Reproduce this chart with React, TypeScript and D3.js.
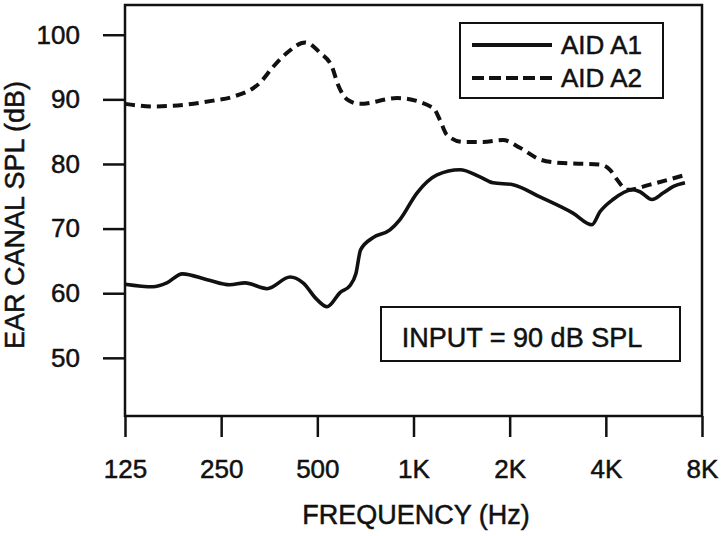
import React from "react";
import * as d3 from "d3";

const freqA1 = [125, 153, 169, 189, 226, 266, 297, 348, 411, 451, 499, 536, 589, 633, 660, 683, 747, 844, 907, 1025, 1185, 1398, 1615, 1774, 2049, 2488, 3156, 3620, 3834, 4211, 4863, 5115, 5576, 6041, 6490, 7075];
const splA1 = [61.4, 61.0, 61.6, 63.0, 62.1, 61.3, 61.6, 60.7, 62.5, 61.6, 59.0, 57.9, 60.1, 61.2, 63.0, 66.7, 68.6, 69.8, 71.4, 75.5, 78.3, 79.1, 78.0, 77.1, 76.8, 74.9, 72.4, 70.6, 72.6, 74.5, 76.0, 75.7, 74.5, 75.5, 76.5, 77.1];

const freqA2 = [125, 153, 195, 236, 272, 331, 363, 402, 458, 510, 556, 580, 619, 680, 888, 1151, 1210, 1273, 1429, 1650, 1906, 2154, 2488, 2813, 3834, 4121, 4335, 4659, 5499, 7075];
const splA2 = [89.3, 88.9, 89.2, 89.8, 90.4, 92.6, 95.0, 97.2, 98.8, 97.2, 95.0, 92.3, 90.0, 89.3, 90.2, 88.7, 86.8, 84.5, 83.4, 83.4, 83.7, 82.5, 80.7, 80.2, 79.9, 79.1, 77.6, 76.0, 76.8, 78.3];

const xTicks = [125, 250, 500, 1000, 2000, 4000, 8000];
const xTickLabels = ["125", "250", "500", "1K", "2K", "4K", "8K"];
const yTicks = [50, 60, 70, 80, 90, 100];

const seriesNames = ["AID A1", "AID A2"];
const FONT = "'Liberation Sans', Arial, Helvetica, sans-serif";

export default function App() {
  const ref = React.useRef<SVGSVGElement>(null);

  React.useEffect(() => {
    const svg = d3.select(ref.current);
    svg.selectAll("*").remove();

    const left = 125, right = 702, top = 5, bottom = 416;

    const x = d3.scaleLog().base(2).domain([125, 8000]).range([left, right]);
    const y = d3.scaleLinear().domain([41, 104.6]).range([bottom, top]);

    // slightly heavier text, like the printed original
    const ink = (s: any) => s.attr("fill", "#111").attr("stroke", "#111").attr("stroke-width", 0.5);

    const g = svg.append("g").attr("font-family", FONT);

    // frame
    g.append("rect")
      .attr("x", left)
      .attr("y", top)
      .attr("width", right - left)
      .attr("height", bottom - top)
      .attr("fill", "none")
      .attr("stroke", "#111")
      .attr("stroke-width", 2.5);

    // x axis
    g.append("g")
      .attr("transform", `translate(0,${bottom})`)
      .call(
        d3.axisBottom(x)
          .tickValues(xTicks)
          .tickFormat((d, i) => xTickLabels[i])
          .tickSize(21)
          .tickPadding(23)
      )
      .call((a) => a.select(".domain").remove())
      .call((a) => a.selectAll(".tick line").attr("stroke", "#111").attr("stroke-width", 2.5))
      .call((a) =>
        a.selectAll(".tick text")
          .attr("font-size", 26)
          .attr("font-family", FONT)
          .call(ink)
      );

    // y axis
    g.append("g")
      .attr("transform", `translate(${left},0)`)
      .call(d3.axisLeft(y).tickValues(yTicks).tickSize(22).tickPadding(23))
      .call((a) => a.select(".domain").remove())
      .call((a) => a.selectAll(".tick line").attr("stroke", "#111").attr("stroke-width", 2.5))
      .call((a) =>
        a.selectAll(".tick text")
          .attr("font-size", 26)
          .attr("font-family", FONT)
          .call(ink)
      );

    // titles
    g.append("text")
      .attr("x", 416)
      .attr("y", 524)
      .attr("text-anchor", "middle")
      .attr("font-size", 27)
      .call(ink)
      .text("FREQUENCY (Hz)");

    g.append("text")
      .attr("transform", "translate(24,215) rotate(-90)")
      .attr("text-anchor", "middle")
      .attr("font-size", 27)
      .call(ink)
      .text("EAR CANAL SPL (dB)");

    const line = d3
      .line<[number, number]>()
      .x((d) => x(d[0]))
      .y((d) => y(d[1]))
      .curve(d3.curveMonotoneX);

    const a1 = freqA1.map((f, i) => [f, splA1[i]] as [number, number]);
    const a2 = freqA2.map((f, i) => [f, splA2[i]] as [number, number]);

    g.append("path")
      .attr("d", line(a2))
      .attr("fill", "none")
      .attr("stroke", "#111")
      .attr("stroke-width", 4)
      .attr("stroke-dasharray", "10,6");

    g.append("path")
      .attr("d", line(a1))
      .attr("fill", "none")
      .attr("stroke", "#111")
      .attr("stroke-width", 3.6)
      .attr("stroke-linejoin", "round");

    // legend
    const legend = g.append("g");
    legend.append("rect")
      .attr("x", 460)
      .attr("y", 23)
      .attr("width", 203)
      .attr("height", 75)
      .attr("fill", "white")
      .attr("stroke", "#111")
      .attr("stroke-width", 2);

    seriesNames.forEach((name, i) => {
      const base = 54 + i * 33;
      legend.append("line")
        .attr("x1", 472)
        .attr("x2", 552)
        .attr("y1", base - 9)
        .attr("y2", base - 9)
        .attr("stroke", "#111")
        .attr("stroke-width", 3.8)
        .attr("stroke-dasharray", i === 1 ? "12,5" : null);
      legend.append("text")
        .attr("x", 561)
        .attr("y", base)
        .attr("font-size", 26)
        .call(ink)
        .text(name);
    });

    // input note
    g.append("rect")
      .attr("x", 381)
      .attr("y", 307)
      .attr("width", 299)
      .attr("height", 54)
      .attr("fill", "white")
      .attr("stroke", "#111")
      .attr("stroke-width", 2);

    g.append("text")
      .attr("x", 522)
      .attr("y", 347)
      .attr("text-anchor", "middle")
      .attr("font-size", 27)
      .call(ink)
      .text("INPUT = 90 dB SPL");
  }, []);

  return (
    <svg
      ref={ref}
      width={723}
      height={536}
      style={{ position: "absolute", left: 0, top: 0, background: "white" }}
    />
  );
}
